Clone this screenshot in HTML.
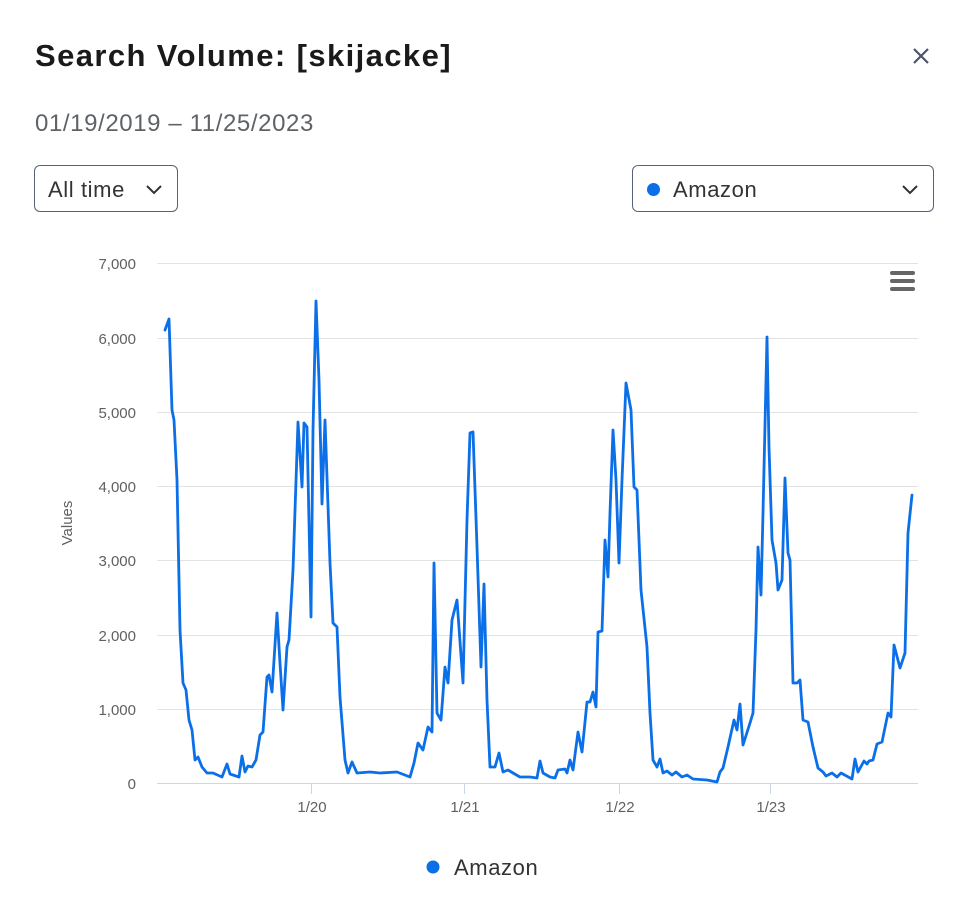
<!DOCTYPE html>
<html><head><meta charset="utf-8"><style>
body{margin:0;width:961px;height:911px;background:#fff;font-family:"Liberation Sans",sans-serif;position:relative;overflow:hidden}
.t{position:absolute;left:35px;top:38px;font-size:31px;letter-spacing:1.4px;font-weight:bold;color:#1a1a1a}
.d{position:absolute;left:35px;top:110px;font-size:24px;letter-spacing:0.6px;color:#5f6368}
.dd{position:absolute;top:165px;height:47px;border:1px solid #56627a;border-radius:6px;box-sizing:border-box;font-size:22px;letter-spacing:0.6px;color:#333;display:flex;align-items:center}
</style></head><body>
<div class="t">Search Volume: [skijacke]</div>
<div class="d">01/19/2019 – 11/25/2023</div>
<svg style="position:absolute;left:912px;top:47px" width="20" height="20"><path d="M2 2L16 16M16 2L2 16" stroke="#4a5568" stroke-width="2.2"/></svg>
<div class="dd" style="left:34px;width:144px;padding-left:13px;padding-top:2px">All time<svg style="position:absolute;right:14px" width="18" height="12"><path d="M2 2L9 9L16 2" fill="none" stroke="#333" stroke-width="2"/></svg></div>
<div class="dd" style="left:632px;width:302px;padding-left:14px;padding-top:2px"><span style="width:13px;height:13px;border-radius:50%;background:#0b6fe8;display:inline-block;margin-right:13px"></span>Amazon<svg style="position:absolute;right:14px" width="18" height="12"><path d="M2 2L9 9L16 2" fill="none" stroke="#333" stroke-width="2"/></svg></div>
<svg style="position:absolute;left:0;top:0" width="961" height="911" font-family="Liberation Sans, sans-serif">
<g stroke="#e3e3e3" stroke-width="1">
<line x1="157" x2="918" y1="263.5" y2="263.5"/><line x1="157" x2="918" y1="338.5" y2="338.5"/><line x1="157" x2="918" y1="412.5" y2="412.5"/><line x1="157" x2="918" y1="486.5" y2="486.5"/><line x1="157" x2="918" y1="560.5" y2="560.5"/><line x1="157" x2="918" y1="635.5" y2="635.5"/><line x1="157" x2="918" y1="709.5" y2="709.5"/></g>
<line x1="157" x2="918" y1="783.5" y2="783.5" stroke="#ccd6eb"/>
<g stroke="#ccd6eb"><line x1="311.5" x2="311.5" y1="784" y2="794"/><line x1="464.5" x2="464.5" y1="784" y2="794"/><line x1="619.5" x2="619.5" y1="784" y2="794"/><line x1="770.5" x2="770.5" y1="784" y2="794"/></g>
<g font-size="15" fill="#606060" text-anchor="end">
<text x="136" y="269">7,000</text><text x="136" y="344">6,000</text><text x="136" y="418">5,000</text><text x="136" y="492">4,000</text><text x="136" y="566">3,000</text><text x="136" y="641">2,000</text><text x="136" y="715">1,000</text><text x="136" y="789">0</text></g>
<g font-size="15" fill="#606060" text-anchor="middle">
<text x="312" y="812">1/20</text><text x="465" y="812">1/21</text><text x="620" y="812">1/22</text><text x="771" y="812">1/23</text></g>
<text transform="translate(72,523) rotate(-90)" font-size="15" fill="#606060" text-anchor="middle">Values</text>
<g fill="#666"><rect x="890" y="271" width="25" height="4" rx="2"/><rect x="890" y="279" width="25" height="4" rx="2"/><rect x="890" y="287" width="25" height="4" rx="2"/></g>
<polyline fill="none" stroke="#0b6fe8" stroke-width="2.8" stroke-linejoin="round" stroke-linecap="round" points="165,330 169,319 172,410 174,420 177,480 180,630 183,683 186,690 189,720 192,730 195,760 198,757 202,767 207,773 213,773 222,777 227,764 230,774 239,777 242,756 245,772 248,766 252,767 256,760 260,735 263,732 267,677 269,675 272,692 277,613 280,663 283,710 287,647 289,640 293,570 298,422 302,487 304,423 307,427 311,617 313,430 316,301 319,380 322,504 325,420 330,563 333,623 337,627 340,697 345,760 348,773 352,762 357,773 370,772 380,773 397,772 410,777 414,763 418,743 423,750 428,727 432,732 434,563 437,713 441,720 445,667 448,683 452,620 457,600 463,683 467,520 470,433 473,432 477,547 481,667 484,584 487,700 490,767 495,767 499,753 503,772 508,770 513,773 520,777 530,777 537,778 540,761 543,773 550,777 555,778 558,770 565,769 567,773 570,760 573,770 578,732 582,752 587,702 590,702 593,692 596,707 598,632 602,631 605,540 608,577 610,513 613,430 616,480 619,563 622,480 626,383 631,410 634,487 637,490 641,590 647,647 650,713 653,760 657,767 660,759 663,773 667,771 672,775 676,772 682,777 687,775 693,779 707,780 717,782 720,772 723,768 728,747 734,720 737,730 740,704 743,745 750,723 753,713 756,630 758,547 761,595 763,513 767,337 769,447 772,540 776,563 778,590 782,580 785,478 788,553 790,560 793,683 797,683 800,680 803,720 808,722 813,747 818,768 823,772 826,776 832,773 837,777 841,773 852,779 855,759 858,772 864,761 867,764 869,761 873,760 877,744 882,742 888,713 891,717 894,645 900,668 905,653 908,533 912,495"/>
<circle cx="433" cy="867" r="6.5" fill="#0b6fe8"/>
<text x="454" y="875" font-size="22" letter-spacing="0.6" fill="#333">Amazon</text>
</svg>
</body></html>
